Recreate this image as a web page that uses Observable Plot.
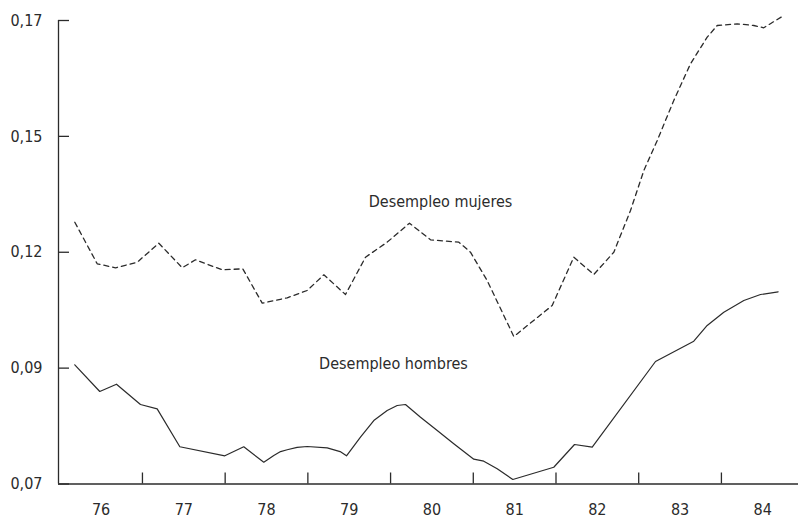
<!DOCTYPE html>
<html>
<head>
<meta charset="utf-8">
<script src="https://cdn.jsdelivr.net/npm/d3@7"></script>
<script src="https://cdn.jsdelivr.net/npm/@observablehq/plot@0.6"></script>
<style>
  html, body { margin: 0; padding: 0; background: #fff; }
  #chart svg { display: block; }
</style>
</head>
<body>
<div id="chart"></div>
<script>
// Men's unemployment (solid line): decimal year, rate
const menYears = [1976.182, 1976.484, 1976.686, 1976.976, 1977.178, 1977.452, 1977.996, 1978.225, 1978.467, 1978.588, 1978.670, 1978.750, 1978.870, 1978.992, 1979.234, 1979.390, 1979.467, 1979.636, 1979.797, 1979.959, 1980.080, 1980.180, 1980.362, 1980.564, 1980.764, 1981.006, 1981.127, 1981.289, 1981.478, 1981.973, 1982.224, 1982.438, 1983.203, 1983.666, 1983.828, 1984.029, 1984.271, 1984.473, 1984.686];
const menRates = [0.09572, 0.08996, 0.09153, 0.08715, 0.08622, 0.07803, 0.07608, 0.07803, 0.07470, 0.07615, 0.07700, 0.07738, 0.07790, 0.07809, 0.07780, 0.07700, 0.07608, 0.08010, 0.08370, 0.08586, 0.08694, 0.08715, 0.08441, 0.08154, 0.07867, 0.07535, 0.07492, 0.07328, 0.07097, 0.07362, 0.07852, 0.07794, 0.09643, 0.10081, 0.10420, 0.10707, 0.10959, 0.11088, 0.11147];

// Women's unemployment (dashed line)
const womenYears = [1976.182, 1976.453, 1976.674, 1976.937, 1977.198, 1977.481, 1977.641, 1977.964, 1978.213, 1978.448, 1978.750, 1978.992, 1979.193, 1979.455, 1979.697, 1979.959, 1980.229, 1980.483, 1980.825, 1980.966, 1981.168, 1981.490, 1981.954, 1982.215, 1982.457, 1982.699, 1982.901, 1983.062, 1983.224, 1983.424, 1983.626, 1983.828, 1983.949, 1984.191, 1984.392, 1984.512, 1984.754];
const womenRates = [0.12648, 0.11751, 0.11665, 0.11785, 0.12195, 0.11665, 0.11837, 0.11621, 0.11643, 0.10901, 0.11017, 0.11175, 0.11513, 0.11088, 0.11893, 0.12217, 0.12627, 0.12269, 0.12217, 0.12001, 0.11390, 0.10182, 0.10851, 0.11893, 0.11520, 0.12001, 0.12901, 0.13764, 0.14411, 0.15274, 0.16066, 0.16640, 0.16892, 0.16929, 0.16892, 0.16843, 0.17108];

// Y axis ticks and their printed labels
const yTicks = [0.07, 0.095, 0.12, 0.145, 0.17];
const yTickLabels = ["0,07", "0,09", "0,12", "0,15", "0,17"];

// X axis: year boundaries (tick marks) and year labels
const yearBoundaries = [1977, 1978, 1979, 1980, 1981, 1982, 1983, 1984];
const yearLabelPos = [1976.5, 1977.5, 1978.5, 1979.5, 1980.5, 1981.5, 1982.5, 1983.5, 1984.5];
const yearLabels = ["76", "77", "78", "79", "80", "81", "82", "83", "84"];

// Series labels
const seriesLabels = ["Desempleo mujeres", "Desempleo hombres"];
const seriesLabelX = [1980.604, 1980.035];
const seriesLabelY = [0.12966, 0.09481];

const men = menYears.map((x, i) => ({x, y: menRates[i]}));
const women = womenYears.map((x, i) => ({x, y: womenRates[i]}));
const labels = seriesLabels.map((t, i) => ({t, x: seriesLabelX[i], y: seriesLabelY[i]}));

const xMin = 1975.985, xMax = 1984.932;
const FONT = '"Liberation Sans Narrow", "DejaVu Sans Condensed", "Arial Narrow", sans-serif';
const INK = "#2b2b2b";

const chart = Plot.plot({
  width: 798,
  height: 519,
  marginLeft: 58,
  marginRight: 0,
  marginTop: 20,
  marginBottom: 35.5,
  style: {fontFamily: FONT, fontSize: "16px", color: INK, background: "#fff"},
  x: {domain: [xMin, xMax]},
  y: {domain: [0.07, 0.17]},
  marks: [
    Plot.ruleX([xMin], {y1: 0.07, y2: 0.17, stroke: INK, strokeWidth: 1.3}),
    Plot.ruleY([0.07], {stroke: INK, strokeWidth: 1.3}),
    Plot.axisY({
      ticks: yTicks,
      tickFormat: (d) => yTickLabels[yTicks.indexOf(d)],
      tickSize: -11,
      tickPadding: 27,
      stroke: INK,
      strokeWidth: 1.3,
      fill: INK,
      fontSize: 16,
      label: null
    }),
    Plot.axisX({
      ticks: yearBoundaries,
      tickFormat: () => "",
      tickSize: -11,
      stroke: INK,
      strokeWidth: 1.3,
      label: null
    }),
    Plot.axisX({
      ticks: yearLabelPos,
      tickFormat: (d) => yearLabels[yearLabelPos.indexOf(d)],
      tickSize: 0,
      tickPadding: 19.5,
      fill: INK,
      fontSize: 16,
      label: null
    }),
    Plot.line(women, {x: "x", y: "y", stroke: INK, strokeWidth: 1.3, strokeDasharray: "5,4"}),
    Plot.line(men, {x: "x", y: "y", stroke: INK, strokeWidth: 1.2}),
    Plot.text(labels, {x: "x", y: "y", text: "t", textAnchor: "middle", lineAnchor: "bottom", fill: INK, fontSize: 16})
  ]
});

document.getElementById("chart").appendChild(chart);
</script>
</body>
</html>
